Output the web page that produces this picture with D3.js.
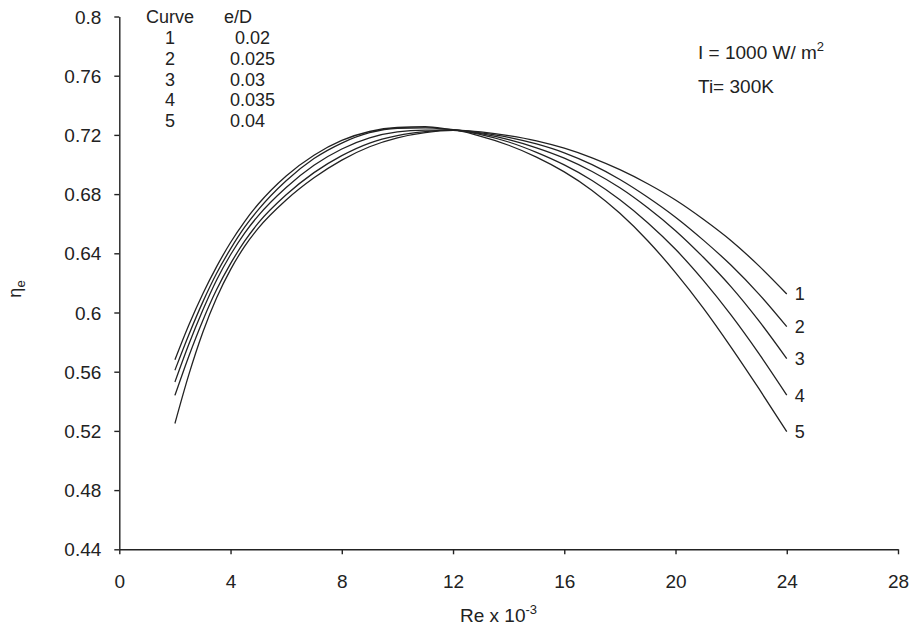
<!DOCTYPE html>
<html><head><meta charset="utf-8">
<script src="https://cdn.jsdelivr.net/npm/d3@7"></script>
<style>
body{margin:0;background:#fff;}
text{font-family:"Liberation Sans",Arial,Helvetica,sans-serif;fill:#222;}
</style></head>
<body><svg id="c" width="912" height="629"></svg>
<script>
const reX = [2,2.5,3,3.5,4,4.5,5,6,7,8,9,10,11,12,13,14,15,16,17,18,19,20,21,22,23,24];
const curve1 = [0.568,0.5915,0.6125,0.631,0.6473,0.6613,0.6733,0.6923,0.7063,0.7163,0.7223,0.725,0.7255,0.7235,0.722,0.7195,0.716,0.711,0.7045,0.6965,0.687,0.676,0.663,0.6485,0.6315,0.6125];
const curve2 = [0.561,0.585,0.607,0.6265,0.643,0.6575,0.6695,0.689,0.704,0.7145,0.7215,0.7245,0.7248,0.7234,0.7214,0.7184,0.7139,0.7079,0.6999,0.6899,0.6779,0.6644,0.6489,0.6319,0.6124,0.5904];
const curve3 = [0.553,0.5785,0.6015,0.622,0.639,0.6535,0.6655,0.6845,0.6995,0.7105,0.718,0.722,0.7232,0.7233,0.7208,0.7168,0.7113,0.7043,0.6953,0.6843,0.6708,0.6553,0.6373,0.6173,0.5943,0.5688];
const curve4 = [0.544,0.5705,0.5945,0.6155,0.633,0.648,0.6605,0.6795,0.6945,0.706,0.7145,0.7195,0.7222,0.7232,0.7202,0.7152,0.7082,0.6997,0.6892,0.6762,0.6607,0.6427,0.6217,0.5982,0.5722,0.5442];
const curve5 = [0.525,0.558,0.5865,0.61,0.629,0.6445,0.657,0.676,0.691,0.703,0.712,0.718,0.7215,0.723,0.719,0.713,0.705,0.695,0.6825,0.667,0.6485,0.627,0.603,0.5765,0.5485,0.5195];
const curveIds = ["1","2","3","4","5"];
const roughness = ["0.02","0.025","0.03","0.035","0.04"];
const xTicks = [0,4,8,12,16,20,24,28];
const yTicks = [0.44,0.48,0.52,0.56,0.6,0.64,0.68,0.72,0.76,0.8];

const series = [curve1,curve2,curve3,curve4,curve5];
const svg = d3.select("#c");
const x = d3.scaleLinear().domain([0,28]).range([119.3,898]);
const y = d3.scaleLinear().domain([0.44,0.8]).range([549.3,16.5]);

const xa = svg.append("g").attr("transform",`translate(0,${y(0.44)})`)
  .call(d3.axisBottom(x).tickValues(xTicks).tickFormat(d=>d).tickSize(5).tickSizeOuter(0));
const ya = svg.append("g").attr("transform",`translate(${x(0)},0)`)
  .call(d3.axisLeft(y).tickValues(yTicks).tickFormat(d=>String(+d.toFixed(2))).tickSize(5).tickSizeOuter(0));
[xa,ya].forEach(g=>{
  g.selectAll("path,line").attr("stroke","#222").attr("stroke-width",1.4);
  g.selectAll("text").attr("font-size",19).attr("fill","#222");
});
xa.selectAll("text").attr("y",39).attr("dy",0);
ya.selectAll("text").attr("x",-18).attr("dy","0.35em");

const line = d3.line().x((d,i)=>x(reX[i])).y(d=>y(d)).curve(d3.curveMonotoneX);
svg.append("g").selectAll("path").data(series).join("path")
  .attr("d",line).attr("fill","none").attr("stroke","#222").attr("stroke-width",1.3);

// curve end labels
svg.append("g").selectAll("text").data(series).join("text")
  .attr("x",x(24)+8).attr("y",d=>y(d[d.length-1])).attr("dy","0.36em")
  .attr("font-size",18).text((d,i)=>curveIds[i]);

// legend table
const lg = svg.append("g");
lg.append("text").attr("x",146).attr("y",23).attr("font-size",18).text("Curve");
lg.append("text").attr("x",224).attr("y",23).attr("font-size",18).text("e/D");
curveIds.forEach((c,i)=>{
  lg.append("text").attr("x",170).attr("y",44+i*20.8).attr("text-anchor","middle").attr("font-size",18).text(c);
  lg.append("text").attr("x",i===0?235:230).attr("y",44+i*20.8).attr("font-size",18).text(roughness[i]);
});

// annotations
const t1 = svg.append("text").attr("x",698).attr("y",59).attr("font-size",19);
t1.append("tspan").text("I = 1000 W/ m");
t1.append("tspan").attr("dy",-8).attr("font-size",13).text("2");
svg.append("text").attr("x",698).attr("y",93).attr("font-size",19).text("Ti= 300K");

// axis titles
const xt = svg.append("text").attr("x",460).attr("y",622).attr("font-size",19);
xt.append("tspan").text("Re x 10");
xt.append("tspan").attr("dy",-8).attr("font-size",13).text("-3");

const yt = svg.append("text").attr("transform","translate(21,289) rotate(-90)").attr("text-anchor","middle").attr("font-size",18);
yt.append("tspan").text("η");
yt.append("tspan").attr("dy",4).attr("font-size",13).text("e");
</script></body></html>
